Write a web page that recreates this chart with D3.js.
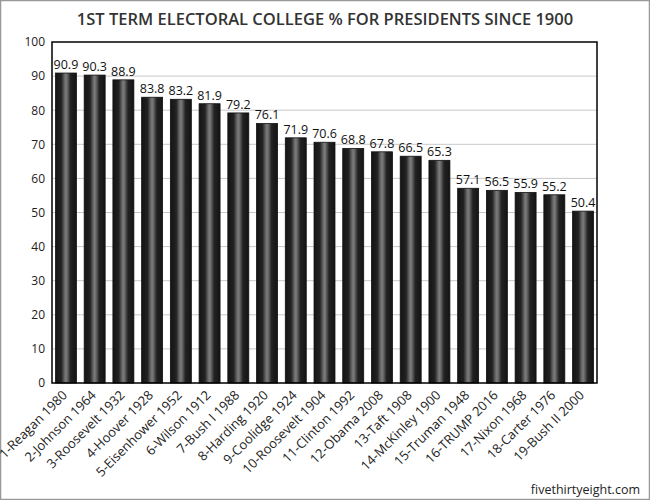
<!DOCTYPE html>
<html><head><meta charset="utf-8">
<script src="https://cdn.jsdelivr.net/npm/d3@7"></script>
<style>body{margin:0;background:#fff;}svg{display:block;font-family:"Open Sans",sans-serif;}</style>
</head><body><svg id="c" width="650" height="500"></svg>
<script>
const categories = ["1-Reagan 1980","2-Johnson 1964","3-Roosevelt 1932","4-Hoover 1928","5-Eisenhower 1952","6-Wilson 1912","7-Bush I 1988","8-Harding 1920","9-Coolidge 1924","10-Roosevelt 1904","11-Clinton 1992","12-Obama 2008","13-Taft 1908","14-McKinley 1900","15-Truman 1948","16-TRUMP 2016","17-Nixon 1968","18-Carter 1976","19-Bush II 2000"];
const values = [90.9,90.3,88.9,83.8,83.2,81.9,79.2,76.1,71.9,70.6,68.8,67.8,66.5,65.3,57.1,56.5,55.9,55.2,50.4];
const yTicks = [0,10,20,30,40,50,60,70,80,90,100];
const title = "1ST TERM ELECTORAL COLLEGE % FOR PRESIDENTS SINCE 1900";
const footer = "fivethirtyeight.com";

const svg = d3.select("#c");
const W = 650, H = 500;
const m = {left:52, right:53, top:42, bottom:117};
const x = d3.scaleBand().domain(categories).range([m.left, W - m.right]).paddingInner(0.27).paddingOuter(0.12);
const y = d3.scaleLinear().domain([0,100]).range([H - m.bottom, m.top]);

svg.append("rect").attr("x",0.5).attr("y",0.5).attr("width",W-1).attr("height",H-1).attr("fill","#fff").attr("stroke","#999").attr("stroke-width",1.5);

const defs = svg.append("defs");
const g = defs.append("linearGradient").attr("id","bar").attr("x1","0").attr("x2","1").attr("y1","0").attr("y2","0");
[[0,"#141414"],[0.28,"#222"],[0.43,"#666"],[0.5,"#7c7c7c"],[0.57,"#666"],[0.72,"#222"],[1,"#141414"]].forEach(([o,c])=>g.append("stop").attr("offset",o).attr("stop-color",c));

svg.append("text").attr("x",W/2).attr("y",25).attr("text-anchor","middle").attr("font-size",16.5).attr("font-weight",600).attr("fill","#333").text(title);

// grid
svg.append("g").selectAll("line").data(yTicks.filter(t=>t>0&&t<100)).join("line")
  .attr("x1",m.left).attr("x2",W-m.right).attr("y1",d=>y(d)).attr("y2",d=>y(d)).attr("stroke","#c8c8c8").attr("stroke-width",1);

// y axis
const ya = svg.append("g").attr("transform",`translate(${m.left},0)`).call(d3.axisLeft(y).tickValues(yTicks).tickSize(0).tickPadding(7));
ya.select(".domain").remove();
ya.selectAll("text").attr("font-size",12).attr("font-family","Open Sans").attr("fill","#222");

// bars
svg.append("g").selectAll("rect").data(values).join("rect")
  .attr("x",(d,i)=>x(categories[i])).attr("width",x.bandwidth())
  .attr("y",d=>y(d)).attr("height",d=>y(0)-y(d))
  .attr("fill","url(#bar)").attr("stroke","#111").attr("stroke-width",0.8);

// value labels
svg.append("g").selectAll("text").data(values).join("text")
  .attr("x",(d,i)=>x(categories[i])+x.bandwidth()/2).attr("y",d=>y(d)-4)
  .attr("text-anchor","middle").attr("font-size",12.5).attr("fill","#111").text(d=>d.toFixed(1));

// plot border
svg.append("rect").attr("x",m.left).attr("y",m.top).attr("width",W-m.left-m.right).attr("height",y(0)-m.top)
  .attr("fill","none").attr("stroke","#000").attr("stroke-width",1.5);

// x axis labels
const xa = svg.append("g").attr("transform",`translate(0,${y(0)})`).call(d3.axisBottom(x).tickSize(0).tickPadding(0));
xa.select(".domain").remove();
xa.selectAll("text").attr("font-size",13).attr("font-family","Open Sans").attr("fill","#222")
  .attr("text-anchor","end").attr("dy","0").attr("transform","translate(2,13) rotate(-45)");

svg.append("text").attr("x",W-10).attr("y",H-6).attr("text-anchor","end").attr("font-size",12.5).attr("fill","#222").text(footer);
</script></body></html>
